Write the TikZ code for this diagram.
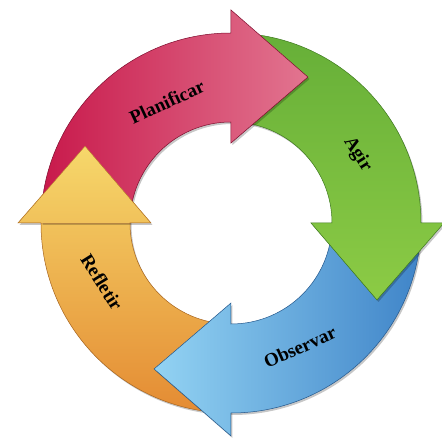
\documentclass[tikz,border=0pt]{standalone}
\usepackage{fontspec}
\setmainfont{Liberation Serif}
\definecolor{redA}{HTML}{C8194B}
\definecolor{redB}{HTML}{E27590}
\definecolor{redD}{HTML}{7E0C2D}
\definecolor{grA}{HTML}{66AF38}
\definecolor{grB}{HTML}{8CCB45}
\definecolor{grD}{HTML}{3E7A1E}
\definecolor{blA}{HTML}{3F84C8}
\definecolor{blB}{HTML}{93D3F3}
\definecolor{blD}{HTML}{23578C}
\definecolor{orA}{HTML}{E48B33}
\definecolor{orB}{HTML}{F6D86B}
\definecolor{orD}{HTML}{A8651E}
\newcommand{\cycarrow}[1]{(#1+90:190pt) arc[start angle=#1+90,end angle=#1,radius=190pt] -- (#1:213pt) -- (#1-27.8:165pt) -- (#1:80pt) -- (#1:101pt) arc[start angle=#1,end angle=#1+90,radius=101pt] -- cycle}
\newcommand{\cychead}[1]{(#1:213pt) -- (#1-27.8:165pt) -- (#1:80pt) -- cycle}
\tikzset{
  shadowfill/.style={fill=black,opacity=0.22,shift={(1.5pt,-2pt)}},
  edge/.style={line width=0.5pt},
  lbl/.style={font=\bfseries\fontsize{19}{19}\selectfont,text=black,inner sep=0pt}
}
\begin{document}
\begin{tikzpicture}[x=1pt,y=1pt]
\useasboundingbox[fill=white] (-231,-218) rectangle (211,223);
% orange (Refletir)
\fill[shadowfill] \cycarrow{180};
\shade[bottom color=orA,top color=orB,draw=orD,edge] \cycarrow{180};
% blue (Observar)
\fill[shadowfill] \cycarrow{-90};
\shade[left color=blB,right color=blA,draw=blD,edge] \cycarrow{-90};
% green (Agir)
\fill[shadowfill] \cycarrow{0};
\shade[top color=grA,bottom color=grB,draw=grD,edge] \cycarrow{0};
% red (Planificar)
\fill[shadowfill] \cycarrow{90};
\shade[left color=redA,right color=redB,draw=redD,edge] \cycarrow{90};
% orange head over the red tail
\begin{scope}
  \clip \cycarrow{90};
  \fill[shadowfill] \cychead{180};
\end{scope}
\begin{scope}
  \clip \cychead{180};
  \shade[bottom color=orA,top color=orB,draw=orD,edge] \cycarrow{180};
\end{scope}
% labels
\node[lbl,rotate=25] (planificar) at (117.9:137pt) {Planificar};
\node[lbl,rotate=-58] (agir) at (28.5:144pt) {Agir};
\node[lbl,rotate=24] (observar) at (-61:142pt) {Observar};
\node[lbl,rotate=-58] (refletir) at (204.6:142pt) {Refletir};
\end{tikzpicture}
\end{document}
